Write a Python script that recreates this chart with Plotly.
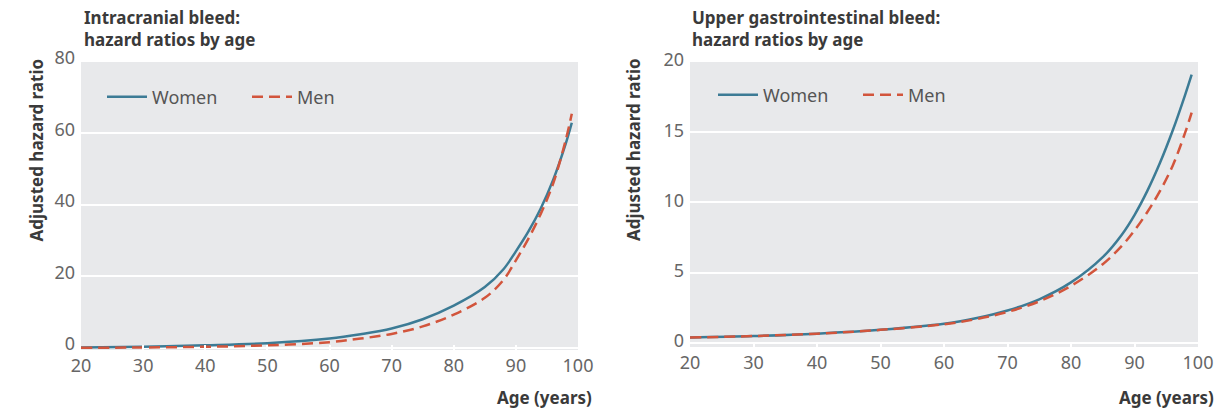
import plotly.graph_objects as go
from plotly.subplots import make_subplots

# Age grid (years)
ages = [20, 30, 40, 50, 60, 65, 70, 75, 80, 85, 88, 90, 92, 94, 96, 98, 99]

# Intracranial bleed: adjusted hazard ratios
ich_women = [0.1, 0.3, 0.7, 1.3, 2.6, 3.8, 5.4, 8.0, 11.8, 17.0, 22.0, 27.0, 32.5, 39.0, 47.0, 57.0, 63.0]
ich_men = [0.0, 0.1, 0.3, 0.7, 1.6, 2.6, 3.9, 6.0, 9.3, 14.0, 19.0, 24.5, 30.5, 37.5, 46.0, 58.0, 65.5]

# Upper gastrointestinal bleed: adjusted hazard ratios
gi_women = [0.38, 0.48, 0.65, 0.92, 1.35, 1.75, 2.3, 3.1, 4.3, 6.1, 7.7, 9.1, 10.8, 12.8, 15.1, 17.7, 19.1]
gi_men = [0.38, 0.48, 0.65, 0.92, 1.32, 1.68, 2.2, 2.95, 4.05, 5.6, 6.9, 8.0, 9.3, 10.8, 12.6, 15.0, 16.4]

x_ticks = [20, 30, 40, 50, 60, 70, 80, 90, 100]
ich_ticks = [0, 20, 40, 60, 80]
gi_ticks = [0, 5, 10, 15, 20]

women_color = "#3c7b95"
men_color = "#d2553c"
bg = "#e8e9eb"
font_family = "Noto Sans, Open Sans, sans-serif"
title_color = "#3a3a3a"
tick_color = "#666666"
men_dash = "11px,6px"

W, H = 1221, 408

def px_x(p):
    return p / W

def px_y(p):
    return 1 - p / H

fig = make_subplots(rows=1, cols=2)

fig.add_trace(go.Scatter(x=ages, y=ich_women, mode="lines", name="Women",
                         line=dict(color=women_color, width=2.5, shape="spline"),
                         legend="legend"), row=1, col=1)
fig.add_trace(go.Scatter(x=ages, y=ich_men, mode="lines", name="Men",
                         line=dict(color=men_color, width=2.5, dash=men_dash, shape="spline"),
                         legend="legend"), row=1, col=1)
fig.add_trace(go.Scatter(x=ages, y=gi_women, mode="lines", name="Women",
                         line=dict(color=women_color, width=2.5, shape="spline"),
                         legend="legend2"), row=1, col=2)
fig.add_trace(go.Scatter(x=ages, y=gi_men, mode="lines", name="Men",
                         line=dict(color=men_color, width=2.5, dash=men_dash, shape="spline"),
                         legend="legend2"), row=1, col=2)

axis_common = dict(showline=False, zeroline=False, automargin=False,
                   tickfont=dict(family=font_family, size=18, color=tick_color))

fig.update_xaxes(range=[20, 100], tickvals=x_ticks, showgrid=False,
                 ticks="inside", ticklen=5, tickcolor="white", tickwidth=1.5,
                 ticklabelstandoff=3, **axis_common)
fig.update_yaxes(showgrid=True, gridcolor="white", gridwidth=2,
                 ticks="", ticklabelstandoff=5, **axis_common)

fig.update_layout(
    xaxis=dict(domain=[px_x(81), px_x(578)]),
    xaxis2=dict(domain=[px_x(690), px_x(1198)]),
    yaxis=dict(domain=[px_y(350), px_y(62)], range=[-0.6, 80], tickvals=ich_ticks,
               ticklabelshift=-4),
    yaxis2=dict(domain=[px_y(347), px_y(62)], range=[-0.3, 20], tickvals=gi_ticks,
                ticklabelshift=-2),
)

legend_common = dict(orientation="h", bgcolor="rgba(0,0,0,0)",
                     font=dict(family=font_family, size=18, color="#555555"),
                     itemwidth=40, entrywidth=90, entrywidthmode="pixels",
                     tracegroupgap=0, xanchor="left", yanchor="middle")
fig.update_layout(
    legend=dict(x=px_x(102), y=px_y(97), **legend_common),
    legend2=dict(x=px_x(713), y=px_y(95), **legend_common),
)

annotations = []
titles = [("Intracranial bleed:<br>hazard ratios by age", 82),
          ("Upper gastrointestinal bleed:<br>hazard ratios by age", 690)]
for text, xp in titles:
    annotations.append(dict(text=text, x=px_x(xp), y=px_y(4), xref="paper", yref="paper",
                            xanchor="left", yanchor="top", showarrow=False, align="left",
                            font=dict(family=font_family, size=17, color=title_color, weight="bold")))
for xp in (22, 633):
    annotations.append(dict(text="Adjusted hazard ratio", x=px_x(xp), y=px_y(150),
                            xref="paper", yref="paper", textangle=-90, showarrow=False,
                            font=dict(family=font_family, size=17, color=title_color, weight="bold")))
for xp in (594, 1216):
    annotations.append(dict(text="Age (years)", x=px_x(xp), y=px_y(397),
                            xref="paper", yref="paper", xanchor="right", yanchor="middle",
                            showarrow=False,
                            font=dict(family=font_family, size=17, color=title_color, weight="bold")))

fig.update_layout(
    width=W, height=H, margin=dict(l=0, r=0, t=0, b=0),
    paper_bgcolor="white", plot_bgcolor=bg,
    annotations=annotations,
)

fig.write_html("out.html")
